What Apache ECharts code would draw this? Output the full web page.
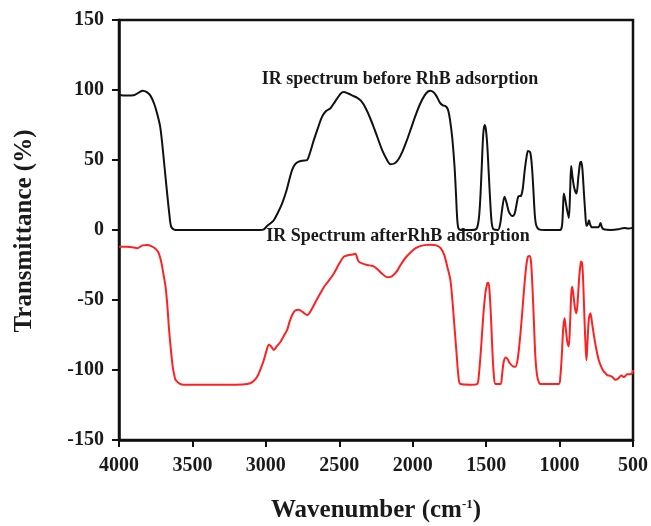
<!DOCTYPE html>
<html>
<head>
<meta charset="utf-8">
<script src="https://cdn.jsdelivr.net/npm/echarts@6/dist/echarts.min.js"></script>
<style>html,body{margin:0;padding:0;background:#fff}#c{width:651px;height:526px}</style>
</head>
<body>
<div id="c"></div>
<script>
// Data
var xTicks = [4000, 3500, 3000, 2500, 2000, 1500, 1000, 500];
var yTicks = [150, 100, 50, 0, -50, -100, -150];
var beforeWn = [4000,3950,3900,3860,3840,3810,3786,3760,3740,3720,3706,3690,3672,3658,3645,3625,3600,3300,3040,3014,2990,2960,2946,2920,2889,2860,2840,2821,2800,2776,2750,2719,2700,2674,2645,2617,2590,2560,2540,2514,2490,2470,2440,2410,2380,2350,2320,2290,2264,2236,2208,2180,2151,2125,2100,2070,2040,2010,1980,1950,1920,1895,1879,1860,1840,1815,1795,1777,1760,1745,1730,1715,1705,1697,1688,1670,1600,1565,1550,1540,1530,1520,1511,1502,1492,1482,1472,1462,1450,1420,1405,1392,1375,1360,1345,1320,1305,1290,1280,1262,1250,1238,1225,1215,1200,1188,1178,1168,1158,1140,1100,1000,985,978,971,962,950,937,928,921,912,900,885,872,860,853,845,835,825,817,808,800,792,780,760,735,721,712,700,650,600,560,530,506,500];
var beforeT = [96.4,96,96.3,98.5,99.5,98.5,96,90,83,74,62,45,26,12,2.4,0.3,0,0,0,0.5,3,5.5,7,12,19,28,36,43,47,48.8,49.5,50,55,64,73,81,85,87,90,94,97.5,98.5,97.5,96,94.5,92,87,80,73,65,57,51,47,47.5,50,56,64,73,82,90,96,99,99.5,98.5,96,91,89,88.5,86,78,65,45,25,8,1,0,0,1,8,22,45,68,75,72,60,40,20,5,0.5,0,4,14,23.8,19,13,10,12,20,24,24.5,30,42,52,56.5,55.5,45,28,10,3,0.5,0,0,2,12,26,22,15,8.6,28,45.7,38,30,26,38,48,48.8,44,28,12,3,4,7,4,2,2,2,5,2,0.5,0,0.5,1.5,1,1.5,2];
var afterWn = [4000,3950,3900,3876,3840,3808,3780,3750,3729,3710,3695,3683,3670,3660,3649,3635,3625,3615,3590,3559,3400,3200,3127,3090,3059,3035,3014,2995,2980,2965,2946,2925,2900,2880,2855,2840,2821,2800,2776,2750,2719,2690,2660,2628,2600,2570,2537,2500,2469,2440,2410,2390,2378,2367,2340,2310,2280,2265,2240,2210,2174,2150,2129,2105,2083,2050,2010,1980,1950,1920,1879,1840,1810,1785,1765,1743,1730,1715,1700,1690,1675,1600,1561,1550,1535,1520,1505,1492,1485,1478,1468,1458,1448,1436,1402,1392,1382,1368,1355,1340,1315,1300,1285,1270,1255,1240,1225,1215,1205,1195,1185,1175,1165,1153,1140,1130,1005,995,985,975,966,958,947,937,928,920,914,905,895,885,875,865,855,851,845,838,830,822,817,810,800,790,778,765,750,733,715,700,690,676,660,640,619,600,580,560,540,520,506,500];
var afterT = [-11.9,-12,-12.5,-13,-11,-10.7,-11.5,-13.5,-16.7,-24,-33,-40.5,-55,-70,-83,-97,-103,-107,-109.5,-110.5,-110.5,-110.5,-110,-108.5,-104.8,-99,-93,-86,-82,-83,-85.7,-83,-79.8,-76,-71.4,-66,-60.7,-57.5,-57,-58.5,-60.7,-57,-51,-45,-40,-36,-31,-24,-19,-18,-17.5,-17,-20,-22.6,-24,-25,-25.5,-26,-28,-31,-33.8,-33.5,-32,-29,-25,-20,-15.5,-13,-11.5,-10.8,-10.5,-11,-13,-18,-26,-36,-50,-70,-90,-103,-110,-110.5,-110,-104,-85,-62,-45,-38,-37.6,-42,-60,-85,-103,-110,-110,-104,-95,-91,-92,-95,-97.5,-97.6,-92,-78,-60,-40,-24,-19,-18.6,-22,-40,-65,-90,-104,-109,-110,-110,-105,-90,-70,-63,-70,-80,-83,-65,-45,-40.5,-47,-56,-59.5,-48,-32,-23,-22.6,-25,-40,-65,-85,-93,-80,-63,-59.5,-67,-76,-85,-93,-98,-101,-102,-103.6,-104,-105,-107,-106,-104,-105,-103,-103,-102.4,-100];
var labelBefore = 'IR spectrum before RhB adsorption';
var labelAfter = 'IR Spectrum afterRhB adsorption';

function zip(a, b) { return a.map(function (v, i) { return [v, b[i]]; }); }

var serif = '"Liberation Serif", "Times New Roman", serif';
var chart = echarts.init(document.getElementById('c'), null, { renderer: 'canvas' });
chart.setOption({
  animation: false,
  backgroundColor: '#fff',
  grid: { left: 119, right: 18, top: 20, bottom: 86, show: true, borderColor: '#111', borderWidth: 2.5, backgroundColor: 'transparent' },
  xAxis: {
    type: 'value', min: xTicks[xTicks.length - 1], max: xTicks[0], interval: 500, inverse: true,
    axisLine: { show: true, onZero: false, lineStyle: { color: '#111', width: 2.5 } },
    axisTick: { show: true, inside: false, length: 7, lineStyle: { color: '#111', width: 2 } },
    axisLabel: { color: '#1a1a1a', fontFamily: serif, fontWeight: 'bold', fontSize: 20, margin: 16, formatter: function (v) { return String(v); } },
    splitLine: { show: false }
  },
  yAxis: {
    type: 'value', min: yTicks[yTicks.length - 1], max: yTicks[0], interval: 50,
    axisLine: { show: true, onZero: false, lineStyle: { color: '#111', width: 2.5 } },
    axisTick: { show: true, inside: false, length: 7, lineStyle: { color: '#111', width: 2 } },
    axisLabel: { color: '#1a1a1a', fontFamily: serif, fontWeight: 'bold', fontSize: 20, margin: 15, formatter: function (v) { return String(v); } },
    splitLine: { show: false }
  },
  graphic: [
    { type: 'text', x: 400, y: 79, style: { text: labelBefore, font: 'bold 18px ' + serif, fill: '#1a1a1a', align: 'center', verticalAlign: 'middle' } },
    { type: 'text', x: 398, y: 236, style: { text: labelAfter, font: 'bold 18px ' + serif, fill: '#1a1a1a', align: 'center', verticalAlign: 'middle' } },
    { type: 'text', x: 25, y: 231, rotation: Math.PI / 2, style: { text: 'Transmittance (%)', font: 'bold 25px ' + serif, fill: '#1a1a1a', align: 'center', verticalAlign: 'middle' } },
    { type: 'text', x: 376, y: 511, style: {
        text: 'Wavenumber (cm{sup|-1})', font: 'bold 25px ' + serif, fill: '#1a1a1a', align: 'center', verticalAlign: 'middle',
        rich: { sup: { font: 'bold 13px ' + serif, fill: '#1a1a1a', verticalAlign: 'top', padding: [0, 0, 12, 0] } }
      } }
  ],
  series: [
    { type: 'line', data: zip(beforeWn, beforeT), showSymbol: false, smooth: 0.3, lineStyle: { color: '#111', width: 2 }, z: 3 },
    { type: 'line', data: zip(afterWn, afterT), showSymbol: false, smooth: 0.3, lineStyle: { color: '#ff2121', width: 2 }, z: 2 }
  ]
});
</script>
</body>
</html>
